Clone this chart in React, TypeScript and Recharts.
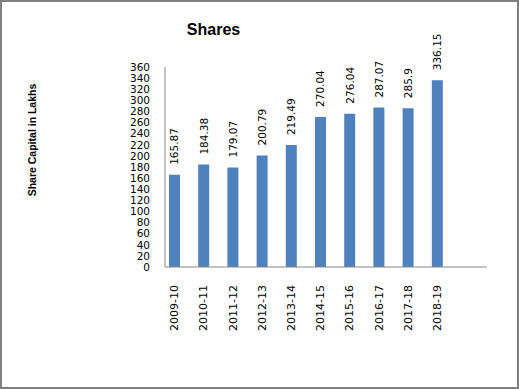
import { BarChart, Bar, XAxis, YAxis, LabelList } from 'recharts';

const years = ['2009-10', '2010-11', '2011-12', '2012-13', '2013-14', '2014-15', '2015-16', '2016-17', '2017-18', '2018-19'];
const shares = [165.87, 184.38, 179.07, 200.79, 219.49, 270.04, 276.04, 287.07, 285.9, 336.15];
const yTicks = [0, 20, 40, 60, 80, 100, 120, 140, 160, 180, 200, 220, 240, 260, 280, 300, 320, 340, 360];

const data = years.map((year, i) => ({ year, value: shares[i] }));

const numFont = '"DejaVu Sans", sans-serif';

function YearTick({ x, y, payload }: any) {
  return (
    <text
      x={x}
      y={y + 10}
      transform={`rotate(-90, ${x}, ${y + 10})`}
      textAnchor="end"
      dominantBaseline="central"
      fontFamily={numFont}
      fontSize={11}
      fill="#000"
    >
      {payload.value}
    </text>
  );
}

function ValueLabel({ x, y, width, value }: any) {
  const cx = x + width / 2;
  const cy = y - 10;
  return (
    <text
      x={cx}
      y={cy}
      transform={`rotate(-90, ${cx}, ${cy})`}
      textAnchor="start"
      dominantBaseline="central"
      fontFamily={numFont}
      fontSize={10.5}
      fill="#000"
    >
      {value}
    </text>
  );
}

export default function App() {
  return (
    <div
      style={{
        position: 'absolute',
        left: 0,
        top: 0,
        width: 519,
        height: 389,
        boxSizing: 'border-box',
        border: '2px solid #808080',
        background: '#fff',
      }}
    >
      <div
        style={{
          position: 'absolute',
          left: 161.5,
          top: 19,
          width: 100,
          textAlign: 'center',
          fontFamily: '"Liberation Sans", Arial, sans-serif',
          fontWeight: 'bold',
          fontSize: 16,
          lineHeight: '18px',
          color: '#000',
        }}
      >
        Shares
      </div>
      <div
        style={{
          position: 'absolute',
          left: 29.5 - 100,
          top: 138 - 7,
          width: 200,
          height: 14,
          lineHeight: '14px',
          textAlign: 'center',
          transform: 'rotate(-90deg)',
          fontFamily: '"Liberation Sans", Arial, sans-serif',
          fontWeight: 'bold',
          fontSize: 10.5,
          color: '#000',
          whiteSpace: 'nowrap',
        }}
      >
        Share Capital in Lakhs
      </div>
      <BarChart width={515} height={385} data={data} margin={{ top: 65, right: 30, bottom: 60, left: 103 }}>
        <XAxis
          dataKey="year"
          interval={0}
          padding={{ left: -5, right: 35 }}
          axisLine={{ stroke: '#868686' }}
          tickLine={false}
          tick={<YearTick />}
          height={60}
        />
        <YAxis
          domain={[0, 360]}
          ticks={yTicks}
          interval={0}
          width={60}
          axisLine={{ stroke: '#868686' }}
          tickLine={false}
          tickSize={0}
          tickMargin={15}
          tick={{ fontFamily: numFont, fontSize: 10.5, fill: '#000' }}
        />
        <Bar dataKey="value" fill="#4F81BD" barSize={11} isAnimationActive={false}>
          <LabelList dataKey="value" content={<ValueLabel />} />
        </Bar>
      </BarChart>
    </div>
  );
}
